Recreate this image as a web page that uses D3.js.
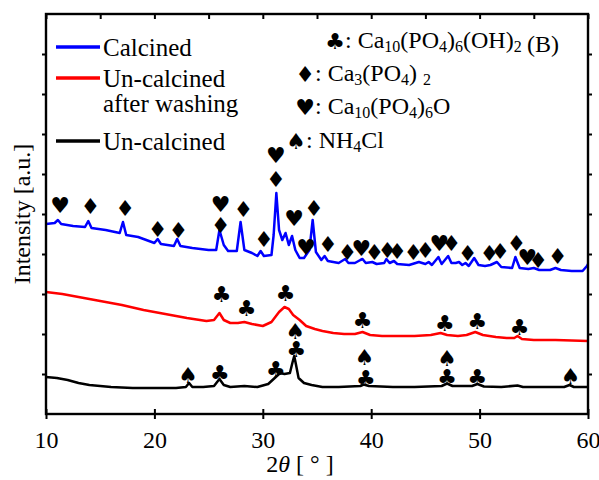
<!DOCTYPE html>
<html>
<head>
<meta charset="utf-8">
<script src="https://cdn.jsdelivr.net/npm/d3@7"></script>
</head>
<body style="margin:0;background:#fff">
<div class="xrd"></div>
<script>
// 2theta [deg], intensity [a.u.]
var calcined = [
  [10.0,190],[10.8,191],[11.1,194],[11.4,190],[12.5,188],[13.6,187],[13.9,193],[14.2,186],
  [15.5,184],[16.8,181],[17.1,192],[17.4,179],[18.5,177],[20.0,171],[20.3,175],[20.6,170],
  [21.8,168],[22.1,175],[22.4,168],[23.5,166],[25.0,164],[25.7,164],[26.0,184],[26.4,169],
  [26.8,163],[27.6,163],[27.95,192],[28.3,164],[29.0,161],[29.5,158],[29.8,163],[30.1,158],
  [30.8,159],[31.0,179],[31.25,221],[31.5,184],[31.8,174],[32.1,181],[32.4,169],[32.7,178],
  [33.0,164],[33.4,156],[33.8,156],[34.3,164],[34.6,194],[34.9,162],[35.4,154],[35.7,158],
  [36.0,153],[37.0,151],[37.6,155],[37.9,151],[38.5,151],[39.0,154],[39.2,155],[39.5,151],
  [40.1,152],[40.5,150],[41.2,151],[41.4,155],[41.7,151],[42.1,153],[42.4,150],[43.5,149],
  [44.4,152],[44.7,151],[45.0,150],[45.3,152],[45.6,149],[46.2,157],[46.5,150],[47.1,158],
  [47.4,151],[47.8,151],[48.1,152],[48.4,149],[48.7,151],[49.0,148],[49.5,156],[49.9,149],
  [50.5,148],[51.0,149],[51.6,152],[52.0,147],[53.0,146],[53.3,157],[53.7,146],[54.5,145],
  [55.0,146],[55.5,144],[56.5,144],[57.0,146],[57.5,144],[58.5,143],[59.5,143],[59.9,148],[60.0,150]
];
var washed = [
  [10.0,122],[11.5,120],[13.0,117],[15.0,113],[17.0,109],[19.0,104],[21.0,100],[23.0,96],
  [24.8,93],[25.5,94],[26.0,101],[26.4,94],[27.0,91],[27.7,91],[28.3,92],[29.0,90],[30.0,88],
  [30.8,92],[31.5,102],[32.0,107],[32.4,105],[32.8,99],[33.4,94],[34.0,88],[34.8,85],[35.5,83],
  [36.5,81],[37.5,80],[38.5,80],[39.2,82],[39.9,79],[41.0,78],[42.5,78],[44.0,78],[45.5,79],
  [46.4,81],[47.0,79],[48.0,78],[48.8,79],[49.6,82],[50.3,79],[51.5,77],[52.5,76],[53.2,76],
  [53.5,78],[53.9,75],[55.0,74],[57.0,74],[60.0,73]
];
var uncalcined = [
  [10.0,37],[11.0,36],[12.0,34],[13.0,31],[14.0,29],[16.0,27],[18.0,26],[20.0,26],[22.0,26],
  [22.9,27],[23.2,31],[23.5,27],[24.5,27],[25.5,28],[26.0,35],[26.4,29],[27.0,27],[28.3,28],
  [29.5,27],[30.5,30],[31.2,37],[31.6,41],[32.0,40],[32.5,41],[32.75,52],[32.9,58],[33.05,50],
  [33.3,36],[33.8,31],[34.5,29],[35.5,27],[37.0,27],[39.0,28],[39.3,29.5],[39.8,28],[42.0,27],
  [44.0,27],[46.5,28],[47.0,30.5],[47.5,28],[49.3,28],[49.8,30],[50.4,27.5],[52.0,27],
  [53.5,28.5],[54.0,27],[57.8,27],[58.3,29],[58.7,27],[60.0,27]
];

// phase markers: symbol, 2theta, height
var calcinedMarks = [
  ["♥",11.3,209],["♦",14.1,208],["♦",17.3,206],["♦",20.3,185],["♦",22.2,184],
  ["♥",26.1,210],["♦",26.1,189],["♦",28.2,205],["♦",30.1,175],["♥",31.2,259],["♦",31.2,235],
  ["♥",32.9,196],["♥",34.0,167],["♦",34.7,206],["♦",36.0,170],["♦",37.8,162],["♥",39.1,166],
  ["♦",40.3,162],["♦",41.5,164],["♦",42.4,163],["♦",43.9,162],["♦",45.0,164],["♥",46.3,171],
  ["♦",47.4,171],["♦",48.9,161],["♦",50.9,161],["♦",51.9,163],["♦",53.4,171],["♥",54.4,157],
  ["♦",55.4,154],["♦",57.2,158]
];
var washedMarks = [
  ["♣",26.2,120],["♣",28.5,106],["♣",32.1,121],["♣",39.2,94],["♣",46.8,91],["♣",49.8,93],["♣",53.7,87]
];
var uncalcinedMarks = [
  ["♠",23.1,39],["♣",26.05,41],["♣",31.2,45],["♣",33.1,65],["♠",33.0,83],
  ["♣",39.5,36],["♠",39.4,57],["♣",47.0,37],["♠",47.0,56],["♣",49.8,37],["♠",58.4,38]
];

var seriesNames = ["Calcined","Un-calcined|after washing","Un-calcined"];
var seriesColors = ["#0000ff","#ff0000","#000000"];
var xTicks = [10,20,30,40,50,60];
var xMinor = d3.range(10,61,5);
var yTicks = d3.range(40,400,40);

var SERIF = "'Liberation Serif','Times New Roman',Times,'DejaVu Serif',serif";
var SYM = "'DejaVu Sans',sans-serif";

var W = 599, H = 480;
var svg = d3.select(".xrd").append("svg").attr("width",W).attr("height",H);

var x = d3.scaleLinear().domain([10,60]).range([46,588]);
var y = d3.scaleLinear().domain([0,400]).range([414,14]);

var line = d3.line().x(function(d){return x(d[0]);}).y(function(d){return y(d[1]);});

[calcined,washed,uncalcined].forEach(function(s,i){
  svg.append("path").datum(s)
    .attr("d",line)
    .attr("fill","none")
    .attr("stroke",seriesColors[i])
    .attr("stroke-width",2.5)
    .attr("stroke-linejoin","round");
});

function mark(sel){
  sel.attr("text-anchor","middle")
    .attr("dominant-baseline","central")
    .attr("font-family",SYM)
    .attr("font-size",22)
    .attr("fill","#000");
}
[calcinedMarks,washedMarks,uncalcinedMarks].forEach(function(m){
  svg.selectAll(null).data(m).enter().append("text")
    .attr("x",function(d){return x(d[1]);})
    .attr("y",function(d){return y(d[2]);})
    .call(mark)
    .text(function(d){return d[0];});
});

// axes
function styleAxis(g){
  g.attr("font-family",SERIF).attr("font-size",24);
  g.selectAll(".domain").remove();
  g.selectAll(".tick line").attr("stroke","#000").attr("stroke-width",2);
  g.selectAll(".tick text").attr("fill","#000");
}
svg.append("g").attr("transform","translate(0,414)")
  .call(d3.axisBottom(x).tickValues(xTicks).tickSize(5).tickPadding(12).tickFormat(d3.format("d")))
  .call(styleAxis);
svg.append("g").attr("transform","translate(0,414)")
  .call(d3.axisTop(x).tickValues(xTicks).tickSize(5).tickFormat(""))
  .call(styleAxis);
svg.append("g").attr("transform","translate(0,14)")
  .call(d3.axisTop(x).tickValues(xMinor).tickSize(-5).tickFormat(""))
  .call(styleAxis);
svg.append("g").attr("transform","translate(46,0)")
  .call(d3.axisLeft(y).tickValues(yTicks).tickSize(4).tickFormat(""))
  .call(styleAxis);
svg.append("g").attr("transform","translate(588,0)")
  .call(d3.axisRight(y).tickValues(yTicks).tickSize(4).tickFormat(""))
  .call(styleAxis);

svg.append("rect").attr("x",46).attr("y",14).attr("width",542).attr("height",400)
  .attr("fill","none").attr("stroke","#000").attr("stroke-width",2.4);

// axis titles
svg.append("text").attr("transform","translate(30,214) rotate(-90)")
  .attr("text-anchor","middle").attr("font-family",SERIF).attr("font-size",24).text("Intensity [a.u.]");
var xt = svg.append("text").attr("x",300).attr("y",472).attr("text-anchor","middle")
  .attr("font-family",SERIF).attr("font-size",24);
xt.append("tspan").text("2");
xt.append("tspan").attr("font-style","italic").text("θ");
xt.append("tspan").text(" [ ° ]");

// series legend
var legY = [47,78,141];
var leg = svg.append("g").attr("font-family",SERIF).attr("font-size",25);
seriesNames.forEach(function(n,i){
  leg.append("line").attr("x1",56).attr("x2",100).attr("y1",legY[i]).attr("y2",legY[i])
    .attr("stroke",seriesColors[i]).attr("stroke-width",3.5);
  n.split("|").forEach(function(p,j){
    leg.append("text").attr("x",103).attr("y",legY[i]+9+j*25).text(p);
  });
});

// phase legend
var phaseSymbols = ["♣","♦","♥","♠"];
var phaseX = [335,305,305,296];
var phaseY = [48,81,114,148];
var phaseLabels = [
  [["Ca",0],["10",1],["(PO",0],["4",1],[")",0],["6",1],["(OH)",0],["2",1]],
  [["Ca",0],["3",1],["(PO",0],["4",1],[") ",0],["2",1]],
  [["Ca",0],["10",1],["(PO",0],["4",1],[")",0],["6",1],["O",0]],
  [["NH",0],["4",1],["Cl",0]]
];
phaseSymbols.forEach(function(s,i){
  svg.append("text").attr("x",phaseX[i]).attr("y",phaseY[i]-7).call(mark).text(s);
  var t = svg.append("text").attr("x",phaseX[i]+10).attr("y",phaseY[i])
    .attr("font-family",SERIF).attr("font-size",24);
  t.append("tspan").text(": ");
  var sub = false;
  phaseLabels[i].forEach(function(p){
    var ts = t.append("tspan").text(p[0]);
    if(p[1]){ ts.attr("font-size",16); if(!sub) ts.attr("dy",4); sub = true; }
    else { if(sub) ts.attr("dy",-4); sub = false; }
  });
});
svg.append("text").attr("x",527).attr("y",52).attr("font-family",SERIF).attr("font-size",24).text("(B)");
</script>
</body>
</html>
